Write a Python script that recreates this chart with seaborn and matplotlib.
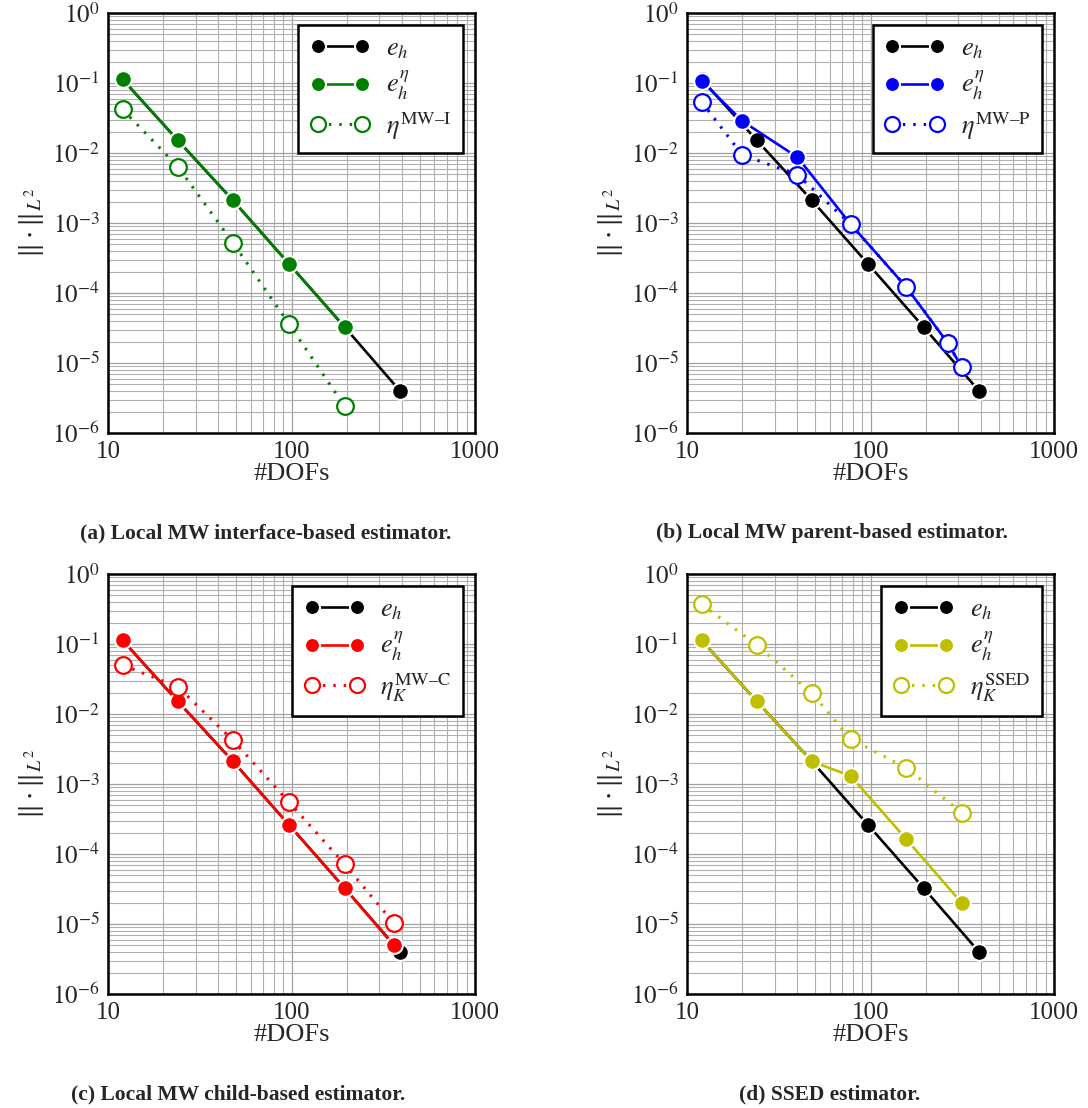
import numpy as np
import matplotlib
matplotlib.use("Agg")
import matplotlib.pyplot as plt
import seaborn as sns
from matplotlib.ticker import FixedLocator, FixedFormatter, LogLocator, NullFormatter

# reference error e_h (shared by all panels)
dofs_eh = [12, 24, 48, 97, 195, 390]
err_eh = [0.113, 0.0152, 0.0021, 2.6e-4, 3.25e-5, 4.0e-6]

# (a) interface-based
dofs_a = [12, 24, 48, 97, 195]
eta_err_a = [0.113, 0.0152, 0.0021, 2.6e-4, 3.25e-5]
est_a = [0.042, 6.4e-3, 5.2e-4, 3.6e-5, 2.4e-6]

# (b) parent-based
dofs_b = [12, 20, 40, 78, 156, 265, 314]
eta_err_b = [0.108, 0.0286, 8.7e-3, 9.6e-4, 1.23e-4, 1.9e-5, 8.7e-6]
est_b = [0.054, 9.4e-3, 4.9e-3, 9.6e-4, 1.23e-4, 1.9e-5, 8.7e-6]

# (c) child-based
dofs_c = [12, 24, 48, 97, 195, 360]
eta_err_c = [0.113, 0.0152, 0.0021, 2.6e-4, 3.25e-5, 5.0e-6]
est_c = [0.050, 0.0245, 4.2e-3, 5.5e-4, 7.1e-5, 1.04e-5]

# (d) SSED
dofs_d = [12, 24, 48, 78, 156, 314]
eta_err_d = [0.113, 0.0152, 0.0021, 1.3e-3, 1.65e-4, 2.0e-5]
est_d = [0.37, 0.097, 0.0197, 4.4e-3, 1.71e-3, 3.9e-4]

panels = [
    ("a", dofs_a, eta_err_a, est_a, "#008000", r"$\eta^{\mathrm{MW–I}}$",
     "(a) Local MW interface-based estimator."),
    ("b", dofs_b, eta_err_b, est_b, "#0000ff", r"$\eta^{\mathrm{MW–P}}$",
     "(b) Local MW parent-based estimator."),
    ("c", dofs_c, eta_err_c, est_c, "#ff0000", r"$\eta_K^{\mathrm{MW–C}}$",
     "(c) Local MW child-based estimator."),
    ("d", dofs_d, eta_err_d, est_d, "#bfbf00", r"$\eta_K^{\mathrm{SSED}}$",
     "(d) SSED estimator."),
]

sns.set_theme(style="whitegrid")
plt.rcParams["font.family"] = ["Liberation Serif", "DejaVu Serif"]
plt.rcParams["mathtext.fontset"] = "stix"

fig = plt.figure(figsize=(10.88, 11.08), dpi=100)
W, H = 1088, 1108
boxes = {"a": (108, 13), "b": (687, 13), "c": (108, 574), "d": (687, 574)}
caption_x = {"a": 266, "b": 832, "c": 238, "d": 830}
aw, ah = 367, 420

ms = 12
for key, dx, ye, yest, col, est_label, caption in panels:
    left, top = boxes[key]
    ax = fig.add_axes([left / W, 1 - (top + ah) / H, aw / W, ah / H])
    ax.set(xscale="log", yscale="log")

    sns.lineplot(x=dofs_eh, y=err_eh, ax=ax, color="black", linewidth=1.9,
                 marker="o", markersize=ms, markeredgecolor="white",
                 markeredgewidth=1.5, label=r"$e_h$", zorder=3)
    sns.lineplot(x=dx, y=ye, ax=ax, color=col, linewidth=1.9,
                 marker="o", markersize=ms, markeredgecolor="white",
                 markeredgewidth=1.5, label=r"$e_h^{\eta}$", zorder=4)
    sns.lineplot(x=dx, y=yest, ax=ax, color=col, linewidth=2.2,
                 linestyle=(0, (0.8, 2.6)), marker="o", markersize=ms,
                 markerfacecolor="white", markeredgecolor=col,
                 markeredgewidth=1.6, label=est_label, zorder=5)

    ax.set_xlim(10, 1000)
    ax.set_ylim(1e-6, 1)
    ax.xaxis.set_major_locator(FixedLocator([10, 100, 1000]))
    ax.xaxis.set_major_formatter(FixedFormatter(["10", "100", "1000"]))
    ax.xaxis.set_minor_locator(LogLocator(base=10, subs=np.arange(2, 10)))
    ax.xaxis.set_minor_formatter(NullFormatter())
    yt = [10.0 ** (-k) for k in range(6, -1, -1)]
    ax.yaxis.set_major_locator(FixedLocator(yt))
    ax.yaxis.set_major_formatter(FixedFormatter(
        [r"$10^{%d}$" % (-k) for k in range(6, -1, -1)]))
    ax.yaxis.set_minor_locator(LogLocator(base=10, subs=np.arange(2, 10)))
    ax.yaxis.set_minor_formatter(NullFormatter())

    ax.grid(which="major", color="#a0a0a0", linewidth=0.9)
    ax.grid(which="minor", color="#b0b0b0", linewidth=0.8)
    ax.tick_params(which="both", direction="in", color="black", length=5,
                   width=1.0, labelsize=18, pad=6)
    ax.tick_params(which="minor", length=3)
    for s in ax.spines.values():
        s.set_color("black")
        s.set_linewidth(1.8)

    ax.set_xlabel("#DOFs", fontsize=19, labelpad=0)
    ax.set_ylabel(r"$\|\cdot\|_{L^2}$", fontsize=21, labelpad=4)

    leg = ax.legend(loc="upper right", fancybox=False, edgecolor="black",
                    framealpha=1, fontsize=19, labelspacing=0.3,
                    handlelength=2.3, borderpad=0.45, borderaxespad=0.45,
                    handletextpad=0.6, numpoints=2, markerscale=0.9)
    leg.get_frame().set_linewidth(1.8)

    fig.text(caption_x[key] / W, 1 - (top + ah + 100) / H, caption,
             ha="center", va="center", fontsize=15.5, fontweight="bold")

fig.savefig("out.png", dpi=100, facecolor="white")
